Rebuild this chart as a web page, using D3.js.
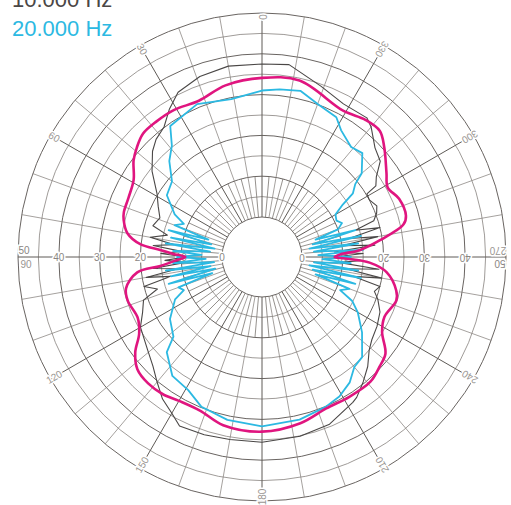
<!DOCTYPE html>
<html><head><meta charset="utf-8">
<script src="https://cdn.jsdelivr.net/npm/d3@7"></script>
<style>html,body{margin:0;padding:0;background:#fff;overflow:hidden}</style>
</head><body>
<svg id="c" width="511" height="505"></svg>
<script>
// ---- data (angle: degrees clockwise from top, level: chart units 0..50) ----
const legendLabels = ["10.000 Hz", "20.000 Hz"];
const ringLevels = [0,5,10,15,20,25,30,35,40,45,50];
const radialTickLabels = ["0","10","20","30","40","50"];
const angleTickLabels = ["0","30","60","90","120","150","180","210","240","270","300","330"];

const magentaDeg =   [0,12,29,37,43,48,56,61,67,74,77,82,86,88,90,91,93,97,104,108,116,122,128,133,139,148,157,167,180,
                      193,202,210,216,222,228,233,238,244,252,257,263,265,268,270,272,274,276,280,285,288,294,301,307,311,316,322,329,338,348];
const magentaLevel = [34.1,34.4,31.2,32.3,32.5,30.5,27.0,25.4,26.7,26.9,25.8,19.3,14.2,9.5,8.0,10.5,16.6,21,24.1,24.8,23.6,24.9,28.6,29.6,30.7,30.6,30.5,32,33,
                      32.5,30.8,30.9,31.7,31.9,31.3,29.1,25.7,24.1,24.8,24.4,21,15.2,11,9,12,15.2,20.2,23.7,25.3,25.8,26,26.9,29.6,30.9,32.2,32.3,32.2,31.5,33.2];

const grayDeg =   [0,8,19,28,37,40,46,51,55,58,59,62,66,69,72,74,76,78,80,82,84,86,88,90,92,94,96,98,100,102,104,107,110,115,121,127,131,136,141,146,148,158,168,180,
                   190,198,206,210,215,220,225,231,240,245,250,253,256,258,260,262,264,266,268,270,272,274,276,278,280,283,286,291,296,301,308,314,318,323,328,333,341,350];
const grayLevel = [37.5,37.8,34.5,32.7,32.9,31.8,28.7,27.5,24.4,23.1,20.2,20,21,20.3,19,14,20,12,19,10,18,8,15,8,15,9,19,11,20,13,20,19,20.4,22.1,23.1,23.9,25,27.5,29.6,31.7,32.2,34.4,35.1,35.6,
                   35.6,36,36.3,34.4,32.7,30.2,28,26.3,24.6,22.5,21.1,17,20,13,19,11,17,9,14,9,15,10,17,12,18,14,18,17,18.5,20.2,24.4,27.5,29,30.1,33,35.5,37,37.7];

const cyanDeg =   [0,6,13,20,28,32,39,44,50,52,55,57,60,64,67,70,72,74,76,78,80,82,84,86,88,90,92,94,96,98,100,102,104,106,108,110,113,116,120,127,135,140,145,151,157,167,180,
                   192,202,209,217,225,228,236,244,247,250,252,254,256,258,260,262,264,266,268,270,272,274,276,278,280,282,284,286,288,290,293,296,303,310,316,321,325,337,349];
const cyanLevel = [31,31.5,32,30.1,29,26.8,24.9,25.6,22.1,19.2,17.4,13.8,11,10.5,11.5,10,4,14,3,15,2,14,3,15,4,12,5,12,3,14,2,15,3,14,4,13,11,14.8,17.3,20.9,24.9,25.4,27.7,29.3,30.1,31.1,31.7,
                   31,29.8,27.5,26.7,23.2,19.4,17.4,13.9,11,12,3,14,2,13,3,14,2,12,4,11,5,12,3,14,2,13,3,14,4,13,11,14,18,19,22.9,25.3,29.4,30.9,29.6,30.5];

// ---- drawing ----
const svg = d3.select("#c");
const cx = 262, cy = 257;
const r = d3.scaleLinear().domain([0,50]).range([40,244]);
const toRad = d => d * Math.PI / 180;
const g = svg.append("g").attr("transform", `translate(${cx},${cy})`);
const pt = (deg, rad) => [rad*Math.sin(toRad(deg)), -rad*Math.cos(toRad(deg))];

// rings
g.selectAll("circle.ring").data(ringLevels).join("circle")
  .attr("class","ring").attr("r", d => r(d)).attr("fill","none")
  .attr("stroke", d => d % 10 === 0 ? "#615c58" : "#7f7a75")
  .attr("stroke-width", d => d % 10 === 0 ? 0.95 : 0.75);

// spokes every 10 deg
g.selectAll("line.spoke").data(d3.range(0,360,10)).join("line")
  .attr("class","spoke")
  .attr("x1", d => pt(d, r(0))[0]).attr("y1", d => pt(d, r(0))[1])
  .attr("x2", d => pt(d, r(50))[0]).attr("y2", d => pt(d, r(50))[1])
  .attr("stroke", d => d % 30 === 0 ? "#5e5a56" : "#87827d")
  .attr("stroke-width", d => d % 30 === 0 ? 1 : 0.75);
// short spokes near the hole
g.selectAll("line.inner").data(d3.range(5,360,10)).join("line")
  .attr("class","inner")
  .attr("x1", d => pt(d, r(0))[0]).attr("y1", d => pt(d, r(0))[1])
  .attr("x2", d => pt(d, r(10))[0]).attr("y2", d => pt(d, r(10))[1])
  .attr("stroke", "#7a7570").attr("stroke-width", 0.8);

// radial tick labels along horizontal axis
const labelFont = "Liberation Sans, Arial, sans-serif";
[270, 90].forEach(side => {
  radialTickLabels.forEach(t => {
    const v = +t;
    const [x, y] = pt(side, v === 50 ? r(50) - 6 : r(v));
    const rot = side + 90;
    g.append("text").attr("transform", `translate(${x},${y}) rotate(${rot})`)
      .attr("dy", v === 50 ? "-0.3em" : "0.35em").attr("text-anchor","middle")
      .attr("font-family", labelFont).attr("font-size", 10).attr("fill","#8a8682")
      .attr("stroke","#fff").attr("stroke-width",3).attr("paint-order","stroke")
      .text(t);
  });
});
// angle labels on outer ring (counter-clockwise numbering)
angleTickLabels.forEach(t => {
  const n = +t;
  const deg = (360 - n) % 360;
  const side = (n === 90 || n === 270);
  const [x, y] = pt(deg, r(50) - (side ? 8 : 4));
  const rot = deg + 90;
  g.append("text").attr("transform", `translate(${x},${y}) rotate(${rot})`)
    .attr("dy", side ? "1.05em" : "0.35em").attr("text-anchor","middle")
    .attr("font-family", labelFont).attr("font-size", 10).attr("fill","#9a9692")
    .attr("stroke","#fff").attr("stroke-width",3).attr("paint-order","stroke")
    .text(t);
});

// curves
const mk = (degs, lv) => degs.map((d,i) => ({a: d, v: lv[i]}));
const lineSmooth = d3.lineRadial().angle(d => toRad(d.a)).radius(d => r(d.v)).curve(d3.curveCatmullRomClosed.alpha(0.5));
const lineRough  = d3.lineRadial().angle(d => toRad(d.a)).radius(d => r(d.v)).curve(d3.curveLinearClosed);

g.append("path").datum(mk(grayDeg, grayLevel)).attr("d", lineRough)
  .attr("fill","none").attr("stroke","#4a4746").attr("stroke-width",1.1).attr("stroke-linejoin","round");
g.append("path").datum(mk(cyanDeg, cyanLevel)).attr("d", lineRough)
  .attr("fill","none").attr("stroke","#2cb9e2").attr("stroke-width",1.8).attr("stroke-linejoin","round");
g.append("path").datum(mk(magentaDeg, magentaLevel)).attr("d", lineSmooth)
  .attr("fill","none").attr("stroke","#e0157f").attr("stroke-width",2.6).attr("stroke-linejoin","round");

// legend
const legendColors = ["#4a4746", "#2cb9e2"];
svg.selectAll("text.leg").data(legendLabels).join("text")
  .attr("class","leg").attr("x", 12).attr("y", (d,i) => 7 + i*29)
  .attr("font-family", labelFont).attr("font-size", 22)
  .attr("fill", (d,i) => legendColors[i]).text(d => d);
</script>
</body></html>
